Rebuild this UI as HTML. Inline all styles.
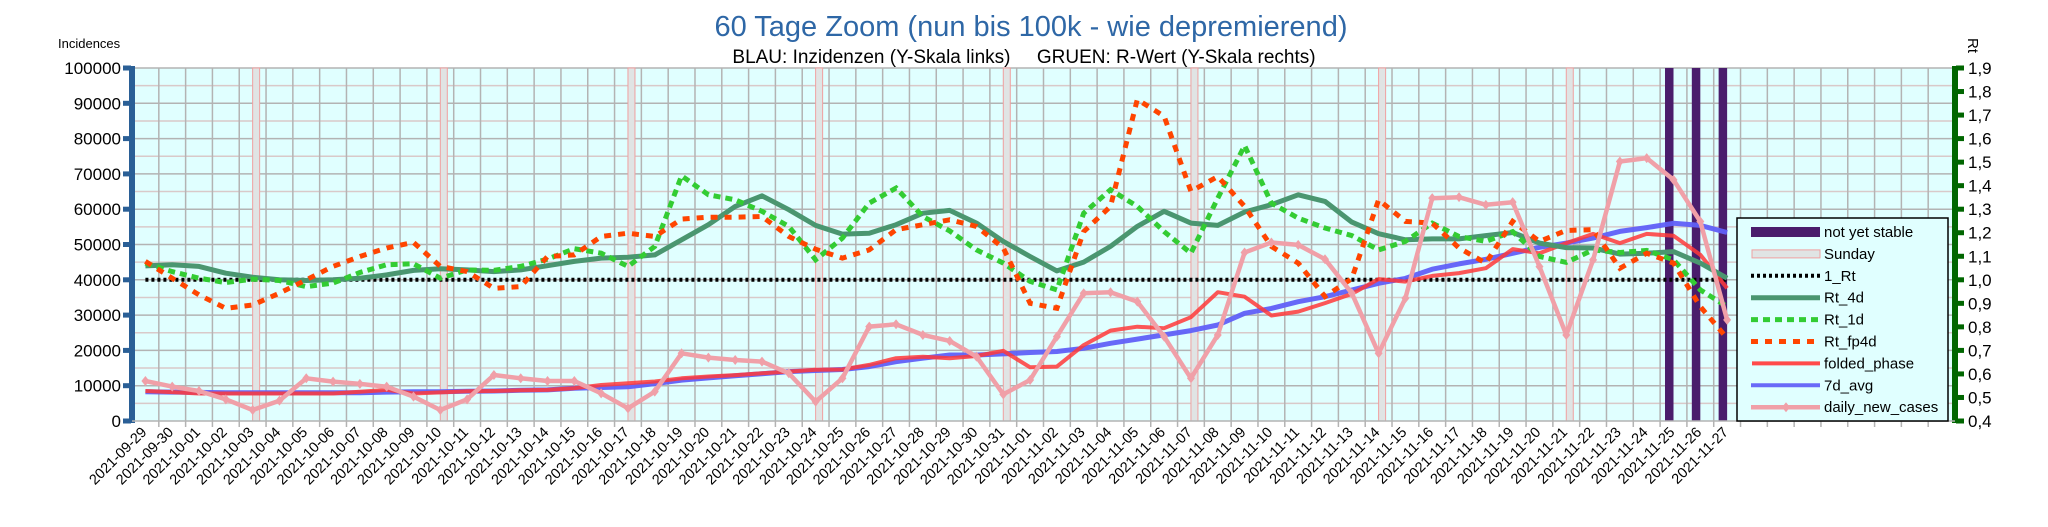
<!DOCTYPE html>
<html><head><meta charset="utf-8"><style>
html,body{margin:0;padding:0;background:#fff;}
svg{display:block;font-family:"Liberation Sans",sans-serif;}
</style></head><body>
<svg id="chart" width="2048" height="527" viewBox="0 0 2048 527" xmlns="http://www.w3.org/2000/svg">
<text x="1031" y="36" text-anchor="middle" font-size="29" fill="#2e67a6">60 Tage Zoom  (nun bis 100k - wie depremierend)</text>
<text x="1024" y="63" text-anchor="middle" font-size="19" fill="#000" xml:space="preserve">BLAU: Inzidenzen (Y-Skala links)     GRUEN: R-Wert (Y-Skala rechts)</text>
<text x="58" y="48" font-size="13" fill="#000">Incidences</text>
<text x="1968" y="38" font-size="15" fill="#000" transform="rotate(90 1968 38)">Rt</text>
<g id="plot"></g>
</svg>
<script>
var dates=[];(function(){var d=new Date(Date.UTC(2021,8,29));for(var i=0;i<60;i++){dates.push(d.toISOString().slice(0,10));d.setUTCDate(d.getUTCDate()+1);}})();
var sundayIdx=[4,11,18,25,32,39,46,53];
var unstableIdx=[57,58,59];
var leftTicks=[0,10000,20000,30000,40000,50000,60000,70000,80000,90000,100000];
var rightTicks=[0.4,0.5,0.6,0.7,0.8,0.9,1.0,1.1,1.2,1.3,1.4,1.5,1.6,1.7,1.8,1.9];
var dailyNewCases=[11340,9740,8500,6140,3120,5760,12100,11150,10500,9730,6900,3120,6140,13040,12100,11340,11340,7840,3590,8320,19180,17960,17290,16820,13510,5480,12100,26740,27400,24380,22680,18240,7560,11620,23910,36190,36480,33830,23910,12100,24380,47720,50560,49900,45830,36190,19180,34780,63130,63410,61240,61990,43750,24380,45640,73520,74470,68320,56510,28630];
var avg7d=[8300,8200,8100,8000,8000,8000,8000,8000,8000,8200,8300,8300,8400,8500,8700,8800,9300,9500,9700,10600,11600,12200,12800,13400,14000,14300,14600,15400,16800,17800,18700,18700,19000,19400,19700,20600,22000,23200,24400,25600,27200,30500,31900,33800,35200,37100,39000,40400,43000,44500,45800,47500,49200,50400,51800,53700,54800,56000,55400,53400];
var foldedPhase=[8500,8200,7800,7800,7800,7800,7800,7800,8300,8800,7800,8100,8400,8500,8700,8800,9300,10200,10700,11200,12100,12600,13000,13500,14000,14500,14600,15900,17800,18200,17800,18400,19900,15200,15400,21500,25600,26700,26300,29400,36500,35200,29900,31000,33400,36000,40200,39500,41100,41900,43300,48700,47500,50400,53000,50400,53000,52500,47100,37600];
var rt4d=[1.059,1.064,1.057,1.028,1.011,1.0,0.997,1.0,1.007,1.021,1.04,1.047,1.042,1.035,1.042,1.06,1.078,1.092,1.096,1.106,1.17,1.234,1.312,1.357,1.298,1.231,1.194,1.198,1.234,1.283,1.295,1.241,1.163,1.099,1.038,1.075,1.142,1.227,1.291,1.241,1.231,1.288,1.319,1.361,1.333,1.245,1.196,1.17,1.174,1.174,1.188,1.201,1.156,1.137,1.135,1.109,1.113,1.12,1.071,1.007];
var rt1d=[1.071,1.035,1.007,0.988,1.003,0.997,0.971,0.986,1.031,1.064,1.068,1.007,1.042,1.04,1.057,1.088,1.132,1.113,1.057,1.142,1.442,1.361,1.34,1.291,1.227,1.085,1.177,1.326,1.39,1.269,1.208,1.127,1.071,0.993,0.957,1.283,1.383,1.312,1.205,1.113,1.347,1.57,1.326,1.262,1.22,1.188,1.127,1.163,1.241,1.184,1.163,1.205,1.099,1.074,1.127,1.116,1.125,1.085,0.957,0.886];
var rtFp4d=[1.078,1.007,0.936,0.879,0.893,0.943,1.0,1.057,1.099,1.135,1.159,1.057,1.035,0.964,0.971,1.099,1.106,1.184,1.198,1.184,1.258,1.266,1.266,1.269,1.184,1.13,1.092,1.127,1.213,1.234,1.255,1.227,1.135,0.9,0.879,1.205,1.312,1.766,1.695,1.376,1.439,1.312,1.142,1.071,0.929,1.005,1.34,1.248,1.241,1.135,1.071,1.248,1.163,1.21,1.213,1.049,1.113,1.071,0.886,0.752];
var oneRt=1.0;

var NS="http://www.w3.org/2000/svg";
var L=132,R=1955,T=68,B=421,NCAT=68,step=(R-L)/NCAT;
function xDay(i){return L+step*(i+0.5);}
function yLeft(v){return B-(v/100000)*(B-T);}
function yRight(v){return B-((v-0.4)/1.5)*(B-T);}
var plot=document.getElementById('plot');
function mk(tag,attrs,parent){var e=document.createElementNS(NS,tag);for(var k in attrs)e.setAttribute(k,attrs[k]);(parent||plot).appendChild(e);return e;}

var bg=mk('rect',{x:L,y:T,width:R-L,height:B-T,fill:'#e0ffff'});


for(var v=5000;v<100000;v+=10000){var g=mk('line',{x1:L,x2:R,y1:yLeft(v),y2:yLeft(v),stroke:'#d9c9c9','stroke-width':1.5});

}
for(var k=1;k<=10;k++){var g2=mk('line',{x1:L,x2:R,y1:yLeft(k*10000),y2:yLeft(k*10000),stroke:'#b3b3b3','stroke-width':1.5});

}
for(var c=1;c<NCAT;c++){var gv=mk('line',{x1:L+step*c,x2:L+step*c,y1:T,y2:B,stroke:'#b3b3b3','stroke-width':1.5});


var tk=mk('line',{x1:L+step*c,x2:L+step*c,y1:B,y2:B+6,stroke:'#b3b3b3','stroke-width':1.5});

}
sundayIdx.forEach(function(i){var s=mk('rect',{x:xDay(i),y:T,width:7,height:B-T,fill:'#e0e4e4',stroke:'#f0a0a0','stroke-width':1});

});
unstableIdx.forEach(function(i){var s=mk('rect',{x:xDay(i)-8.5,y:T,width:8.5,height:B-T,fill:'#4a1d6c'});

});
function pts(arr,yf){return arr.map(function(v,i){return xDay(i).toFixed(1)+','+yf(v).toFixed(1);}).join(' ');}
var ref=mk('line',{x1:xDay(0),x2:xDay(59),y1:yRight(oneRt),y2:yRight(oneRt),stroke:'#000','stroke-width':4,'stroke-dasharray':'3,3'});


var s1=mk('polyline',{points:pts(avg7d,yLeft),fill:'none',stroke:'#6060f8','stroke-width':5,'stroke-opacity':0.95,'stroke-linejoin':'round'});


var s2=mk('polyline',{points:pts(foldedPhase,yLeft),fill:'none',stroke:'#ff3a3a','stroke-width':4,'stroke-opacity':0.85,'stroke-linejoin':'round'});


var s3=mk('polyline',{points:pts(rt4d,yRight),fill:'none',stroke:'#4a9670','stroke-width':5,'stroke-linejoin':'round'});


var s4=mk('polyline',{points:pts(rt1d,yRight),fill:'none',stroke:'#33cc33','stroke-width':5,'stroke-dasharray':'7,5'});


var s5=mk('polyline',{points:pts(rtFp4d,yRight),fill:'none',stroke:'#ff4500','stroke-width':5,'stroke-dasharray':'7,7'});


var s6=mk('polyline',{points:pts(dailyNewCases,yLeft),fill:'none',stroke:'#f0a0a8','stroke-width':4.5,'stroke-linejoin':'round'});


dailyNewCases.forEach(function(v,i){var x=xDay(i),y=yLeft(v);var m=mk('polygon',{points:(x)+','+(y-5)+' '+(x+4)+','+y+' '+x+','+(y+5)+' '+(x-4)+','+y,fill:'#f0a0a8'});

});
var la=mk('rect',{x:L-3,y:T-2,width:6,height:B-T+4,fill:'#2a5f96'});


leftTicks.forEach(function(v){var y=yLeft(v);var t=mk('rect',{x:L-9,y:y-2.5,width:8,height:5,fill:'#2a5f96'});


var tx=mk('text',{x:L-11,y:y+6,'text-anchor':'end','font-size':17,fill:'#000'});tx.textContent=String(v);

});
var ra=mk('rect',{x:R-3,y:T-2,width:6,height:B-T+4,fill:'#006600'});


rightTicks.forEach(function(v){var y=yRight(v);var t=mk('rect',{x:R+1,y:y-2.5,width:8,height:5,fill:'#006600'});


var tx=mk('text',{x:R+13,y:y+6,'font-size':17,fill:'#000'});tx.textContent=v.toFixed(1).replace('.',',');

});
var xa=mk('line',{x1:L,x2:R,y1:B,y2:B,stroke:'#b3b3b3','stroke-width':1.5});


dates.forEach(function(d,i){var x=xDay(i)+2,y=B+12;var tx=mk('text',{x:x,y:y,'text-anchor':'end','font-size':14.5,fill:'#000',transform:'rotate(-45 '+x+' '+y+')'});tx.textContent=d;

});
var lg=mk('g',{});


var lb=mk('rect',{x:1737,y:218,width:211,height:203,fill:'#e0ffff',stroke:'#000','stroke-width':1.5},lg);


var legNames=['not yet stable','Sunday','1_Rt','Rt_4d','Rt_1d','Rt_fp4d','folded_phase','7d_avg','daily_new_cases'];
legNames.forEach(function(n,i){var y=232+i*21.9;var g=mk('g',{},lg);


if(i==0)mk('rect',{x:1751,y:y-5,width:69,height:10,fill:'#4a1d6c'},g);
else if(i==1)mk('rect',{x:1752,y:y-4,width:68,height:8,fill:'#e0e4e4',stroke:'#f0a0a0','stroke-width':1},g);
else if(i==2)mk('line',{x1:1751,x2:1820,y1:y,y2:y,stroke:'#000','stroke-width':4,'stroke-dasharray':'3,3'},g);
else if(i==3)mk('line',{x1:1751,x2:1820,y1:y,y2:y,stroke:'#4a9670','stroke-width':5},g);
else if(i==4)mk('line',{x1:1751,x2:1820,y1:y,y2:y,stroke:'#33cc33','stroke-width':5,'stroke-dasharray':'7,5'},g);
else if(i==5)mk('line',{x1:1751,x2:1820,y1:y,y2:y,stroke:'#ff4500','stroke-width':5,'stroke-dasharray':'7,7'},g);
else if(i==6)mk('line',{x1:1752,x2:1820,y1:y,y2:y,stroke:'#ff4a4a','stroke-width':4},g);
else if(i==7)mk('line',{x1:1751,x2:1820,y1:y,y2:y,stroke:'#6a6af8','stroke-width':4},g);
else {mk('line',{x1:1751,x2:1820,y1:y,y2:y,stroke:'#f0a0a8','stroke-width':4.5},g);mk('polygon',{points:'1786,'+(y-5)+' 1790,'+y+' 1786,'+(y+5)+' 1782,'+y,fill:'#f0a0a8'},g);}
var t=mk('text',{x:1824,y:y+5,'font-size':15,fill:'#000'},g);t.textContent=n;});
</script>
</body></html>
